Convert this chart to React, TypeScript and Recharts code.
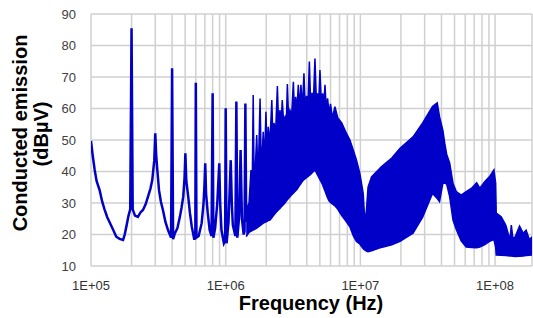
import React from 'react';
import { ComposedChart, Line, Area, XAxis, YAxis, CartesianGrid, Label } from 'recharts';

// low-frequency part: a single trace with harmonic spikes
const lineFreq = [
  1.0e5, 1.03e5, 1.065e5, 1.1e5, 1.16e5, 1.21e5, 1.26e5, 1.32e5, 1.38e5, 1.46e5,
  1.54e5, 1.63e5, 1.73e5, 1.78e5, 1.83e5, 1.9e5, 1.955e5, 2.0e5, 2.04e5, 2.12e5,
  2.23e5, 2.33e5, 2.43e5, 2.54e5, 2.65e5, 2.76e5, 2.85e5, 2.95e5, 3.0e5, 3.05e5,
  3.1e5, 3.2e5, 3.3e5, 3.42e5, 3.57e5, 3.73e5, 3.93e5, 4.0e5, 4.07e5, 4.2e5,
  4.38e5, 4.57e5, 4.7e5, 4.84e5, 4.95e5, 5.02e5, 5.1e5, 5.27e5, 5.42e5, 5.6e5,
  5.85e5, 5.95e5, 6.0e5, 6.07e5, 6.3e5, 6.63e5, 6.85e5, 6.95e5, 7.05e5, 7.15e5,
  7.35e5, 7.6e5, 7.85e5, 8.0e5, 8.1e5, 8.35e5, 8.66e5, 8.96e5, 9.1e5, 9.3e5,
  9.7e5, 9.9e5, 1.0e6, 1.015e6, 1.05e6, 1.09e6, 1.11e6, 1.13e6, 1.18e6, 1.2e6,
  1.22e6, 1.26e6, 1.29e6, 1.32e6, 1.36e6, 1.38e6, 1.4e6, 1.42e6,
];
const lineLevel = [
  49.7, 45, 40.5, 37, 34, 30.5, 28, 25.5, 23.7, 21.5,
  19.3, 18.6, 18.3, 20, 22.5, 26, 28, 85.5, 28, 26,
  25.6, 27, 27.8, 29.5, 32, 34.5, 37.3, 43.6, 52.1, 45,
  41, 34, 30.5, 27.8, 24, 21.4, 19, 72.8, 18.5, 20.4,
  22, 25.6, 28.5, 32, 38, 45.8, 37, 32, 27, 22.5,
  18.3, 20, 68.2, 19, 19.5, 23.6, 30, 35.2, 42.6, 33,
  27, 21.4, 19.5, 64.8, 19, 22, 29.9, 42.6, 30, 21.4,
  17.2, 18, 60.1, 17.2, 24, 43.6, 30, 23, 19.5, 62.2,
  19, 26, 46.8, 25, 20, 21, 61.6, 24,
];

// dense part above 1.4 MHz: lower and upper envelope of the trace
const bandFreq = [
  1.42e6, 1.49e6, 1.54e6, 1.57e6, 1.6e6, 1.63e6, 1.7e6, 1.74e6, 1.8e6, 1.84e6,
  1.9e6, 1.94e6, 1.99e6, 2.03e6, 2.07e6, 2.13e6, 2.2e6, 2.24e6, 2.28e6, 2.35e6,
  2.42e6, 2.47e6, 2.53e6, 2.58e6, 2.63e6, 2.69e6, 2.76e6, 2.82e6, 2.87e6, 2.93e6,
  3.0e6, 3.09e6, 3.18e6, 3.24e6, 3.31e6, 3.38e6, 3.46e6, 3.54e6, 3.62e6, 3.71e6,
  3.81e6, 3.9e6, 3.99e6, 4.08e6, 4.18e6, 4.27e6, 4.37e6, 4.48e6, 4.6e6, 4.71e6,
  4.82e6, 4.91e6, 5.01e6, 5.13e6, 5.25e6, 5.35e6, 5.46e6, 5.58e6, 5.71e6, 5.85e6,
  6.0e6, 6.2e6, 6.47e6, 6.8e6, 7.27e6, 7.8e6, 8.36e6, 8.9e6, 9.36e6, 9.9e6,
  1.05e7, 1.08e7, 1.11e7, 1.14e7, 1.21e7, 1.43e7, 1.71e7, 1.97e7, 2.46e7, 2.9e7,
  3.43e7, 3.72e7, 3.87e7, 4.1e7, 4.23e7, 4.37e7, 4.6e7, 4.87e7, 5.16e7, 5.6e7,
  6.1e7, 6.7e7, 7.3e7, 7.7e7, 8.4e7, 9.1e7, 9.8e7, 1.01e8, 1.02e8, 1.11e8,
  1.2e8, 1.29e8, 1.32e8, 1.36e8, 1.41e8, 1.52e8, 1.62e8, 1.7e8, 1.8e8, 1.88e8,
];
const bandLow = [
  19.3, 20.7, 21, 21.2, 21.4, 21.6, 22, 22.3, 22.8, 23.1,
  23.6, 23.8, 24, 24.2, 24.4, 24.6, 25.3, 25.8, 26.2, 26.9,
  27.5, 27.9, 28.3, 28.7, 29.1, 29.5, 30.1, 30.6, 31, 31.5,
  32, 32.6, 33.1, 33.5, 33.9, 34.3, 35, 35.6, 36.2, 36.9,
  37.4, 37.7, 38.1, 38.4, 38.8, 39.1, 39.5, 40, 40.5, 39.6,
  38.8, 38.1, 37.4, 36.6, 35.7, 34.8, 33.8, 32.7, 31.6, 30.7,
  30.2, 29.7, 29.1, 28, 26, 24.3, 22.4, 19.4, 17.8, 17,
  15.5, 15, 14.7, 14.5, 14.8, 15.9, 16.7, 17.8, 20.4, 25.5,
  33, 31.4, 30.4, 36.3, 36.3, 36, 32, 24.6, 21.5, 18,
  16, 15.9, 15.8, 16, 16.8, 17.8, 18.4, 16, 13.5, 13.4,
  13.3, 13.2, 13.2, 13.1, 13, 13.1, 13.2, 13.3, 13.4, 13.5,
];
const bandHigh = [
  28, 30, 40.5, 31, 64.3, 34, 51.6, 37, 63.2, 40,
  52.6, 43, 59, 46, 54.2, 49, 62.7, 51, 55.4, 53,
  67.1, 55, 59.5, 55, 62.7, 56, 57.4, 56, 67.8, 57,
  59.5, 58, 68.5, 59, 63.7, 59.5, 67.5, 60, 67.5, 60,
  71.2, 60.5, 64, 61, 74.9, 62, 65, 62.5, 75.9, 62.7,
  64.8, 62.5, 72.2, 62, 64.8, 61, 67.5, 60, 63.2, 58.5,
  61.5, 57, 60.6, 57, 55.4, 52.5, 50, 46.5, 43.6, 39.5,
  33, 23.6, 28, 35, 38.3, 41.5, 44.3, 47.4, 51, 55.4,
  60.6, 61.8, 57.4, 53, 49, 45.5, 42.7, 36.3, 33.6, 32.5,
  33.6, 34.7, 36.4, 34.7, 36.8, 38.4, 40.5, 36.3, 26.8, 25.6,
  23, 18.3, 23, 18.5, 19.3, 22.7, 20.4, 21.4, 18.3, 19.3,
];

// every decade gets grid lines at 1..9; only the decades carry a label
const gridFreqs = [
  1e5, 2e5, 3e5, 4e5, 5e5, 6e5, 7e5, 8e5, 9e5,
  1e6, 2e6, 3e6, 4e6, 5e6, 6e6, 7e6, 8e6, 9e6,
  1e7, 2e7, 3e7, 4e7, 5e7, 6e7, 7e7, 8e7, 9e7,
  1e8,
];
const freqLabels = ['1E+05', '1E+06', '1E+07', '1E+08'];
const levelTicks = [10, 20, 30, 40, 50, 60, 70, 80, 90];

const lineData = lineFreq.map((f, i) => ({ f, v: lineLevel[i] }));
const bandData = bandFreq.map((f, i) => ({ f, range: [bandLow[i], bandHigh[i]] }));

const FONT = '"Liberation Sans", Arial, sans-serif';
const BLUE = '#0000c8';
const GRID = '#d0d0d0';

const freqLabel = (v: number) => {
  const exp = Math.log10(v);
  if (Math.abs(exp - Math.round(exp)) > 1e-6) return '';
  return freqLabels[Math.round(exp) - 5] ?? '';
};

const YTitle = () => (
  <text transform="rotate(-90)" fontFamily={FONT} fontWeight="bold" fontSize={20} fill="#000" textAnchor="middle">
    <tspan x={-133} y={27}>Conducted emission</tspan>
    <tspan x={-134} y={48}>(dBµV)</tspan>
  </text>
);

const XTitle = () => (
  <text x={311} y={310} fontFamily={FONT} fontWeight="bold" fontSize={20} fill="#000" textAnchor="middle">
    Frequency (Hz)
  </text>
);

export default function App() {
  return (
    <div style={{ position: 'absolute', left: 0, top: 0, background: '#fff' }}>
      <ComposedChart width={533} height={318} margin={{ top: 14, right: 1, bottom: 22, left: 0 }}>
        <CartesianGrid stroke={GRID} strokeWidth={1.5} />
        <XAxis
          dataKey="f"
          type="number"
          scale="log"
          domain={[1e5, 1.88e8]}
          allowDataOverflow
          ticks={gridFreqs}
          interval={0}
          tickFormatter={freqLabel}
          axisLine={false}
          tickLine={false}
          tickSize={6}
          tickMargin={9}
          height={30}
          tick={{ fontSize: 13, fill: '#333', fontFamily: FONT }}
        >
          <Label content={<XTitle />} />
        </XAxis>
        <YAxis
          type="number"
          domain={[10, 90]}
          ticks={levelTicks}
          axisLine={false}
          tickLine={false}
          tickSize={5}
          tickMargin={10}
          width={91}
          tick={{ fontSize: 13, fill: '#404040', fontFamily: FONT }}
        >
          <Label content={<YTitle />} />
        </YAxis>
        <Area
          data={bandData}
          dataKey="range"
          type="linear"
          stroke={BLUE}
          strokeWidth={1.5}
          fill={BLUE}
          fillOpacity={1}
          dot={false}
          activeDot={false}
          isAnimationActive={false}
        />
        <Line
          data={lineData}
          dataKey="v"
          type="linear"
          stroke={BLUE}
          strokeWidth={2.5}
          dot={false}
          activeDot={false}
          isAnimationActive={false}
        />
      </ComposedChart>
    </div>
  );
}
